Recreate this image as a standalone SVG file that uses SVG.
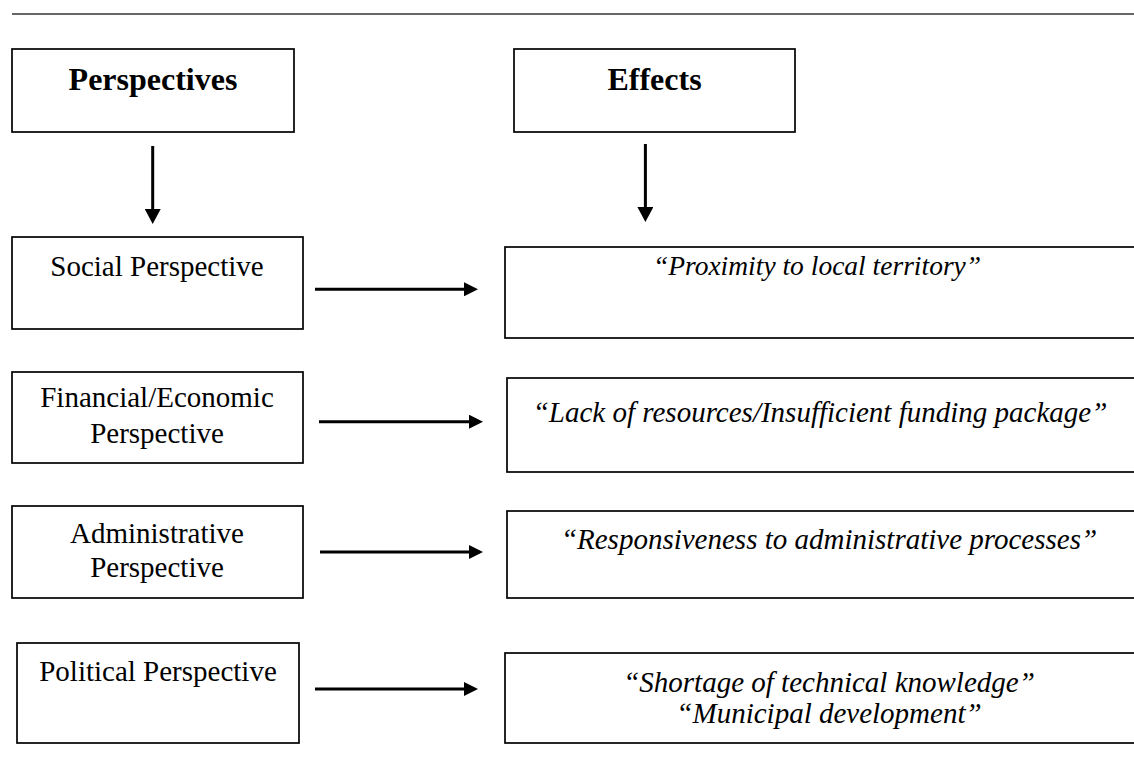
<svg xmlns="http://www.w3.org/2000/svg" width="1134" height="776" viewBox="0 0 1134 776">
<defs>
<style>
.box{fill:#fff;stroke:#000;stroke-width:1.7}
.t{font-family:"Liberation Serif","Times New Roman",serif;font-size:29px;fill:#000;text-anchor:middle}
.h{font-weight:bold;font-size:32px}
.i{font-style:italic}
.c{stroke:#000;stroke-width:3;fill:none}
</style>
<marker id="ah" markerUnits="userSpaceOnUse" viewBox="0 0 15 16" refX="0" refY="8" markerWidth="15" markerHeight="16" orient="auto">
<polygon points="0,0 15,8 0,16" fill="#000"/>
</marker>
<marker id="ahs" markerUnits="userSpaceOnUse" viewBox="0 0 14 14" refX="0" refY="7" markerWidth="14" markerHeight="14" orient="auto">
<polygon points="0,0 14,7 0,14" fill="#000"/>
</marker>
</defs>
<rect width="1134" height="776" fill="#fff"/>
<line x1="12" y1="14" x2="1134" y2="14" stroke="#333" stroke-width="1.5"/>

<g id="perspectives">
<rect class="box" x="12" y="49" width="282" height="83"/>
<text class="t h" x="153" y="90">Perspectives</text>
</g>
<g id="effects">
<rect class="box" x="514" y="49" width="281" height="83"/>
<text class="t h" x="654.5" y="90">Effects</text>
</g>

<g id="social">
<rect class="box" x="12" y="237" width="291" height="92"/>
<text class="t" x="157" y="276">Social Perspective</text>
</g>
<g id="financial">
<rect class="box" x="12" y="372" width="291" height="91"/>
<text class="t" x="157" y="407">Financial/Economic</text>
<text class="t" x="157" y="443">Perspective</text>
</g>
<g id="administrative">
<rect class="box" x="12" y="506" width="291" height="92"/>
<text class="t" x="157" y="543">Administrative</text>
<text class="t" x="157" y="577">Perspective</text>
</g>
<g id="political">
<rect class="box" x="17" y="643" width="282" height="100"/>
<text class="t" x="158" y="681">Political Perspective</text>
</g>

<g id="proximity">
<rect class="box" x="505" y="247" width="640" height="91"/>
<text class="t i" x="817" y="275" style="font-size:27.5px">“Proximity to local territory”</text>
</g>
<g id="lack">
<rect class="box" x="507" y="378" width="640" height="94"/>
<text class="t i" x="820" y="422">“Lack of resources/Insufficient funding package”</text>
</g>
<g id="responsiveness">
<rect class="box" x="507" y="511" width="640" height="87"/>
<text class="t i" x="829" y="549">“Responsiveness to administrative processes”</text>
</g>
<g id="shortage">
<rect class="box" x="505" y="653" width="640" height="90"/>
<text class="t i" x="829" y="692">“Shortage of technical knowledge”</text>
<text class="t i" x="829" y="723">“Municipal development”</text>
</g>

<g id="connectors">
<line class="c" x1="152.7" y1="146" x2="152.7" y2="209" marker-end="url(#ah)"/>
<line class="c" x1="645.4" y1="144" x2="645.4" y2="207" marker-end="url(#ah)"/>
<line class="c" x1="315" y1="289.3" x2="464" y2="289.3" marker-end="url(#ahs)"/>
<line class="c" x1="319" y1="421.7" x2="469" y2="421.7" marker-end="url(#ahs)"/>
<line class="c" x1="320" y1="552" x2="469" y2="552" marker-end="url(#ahs)"/>
<line class="c" x1="315" y1="689" x2="464" y2="689" marker-end="url(#ahs)"/>
</g>
</svg>
